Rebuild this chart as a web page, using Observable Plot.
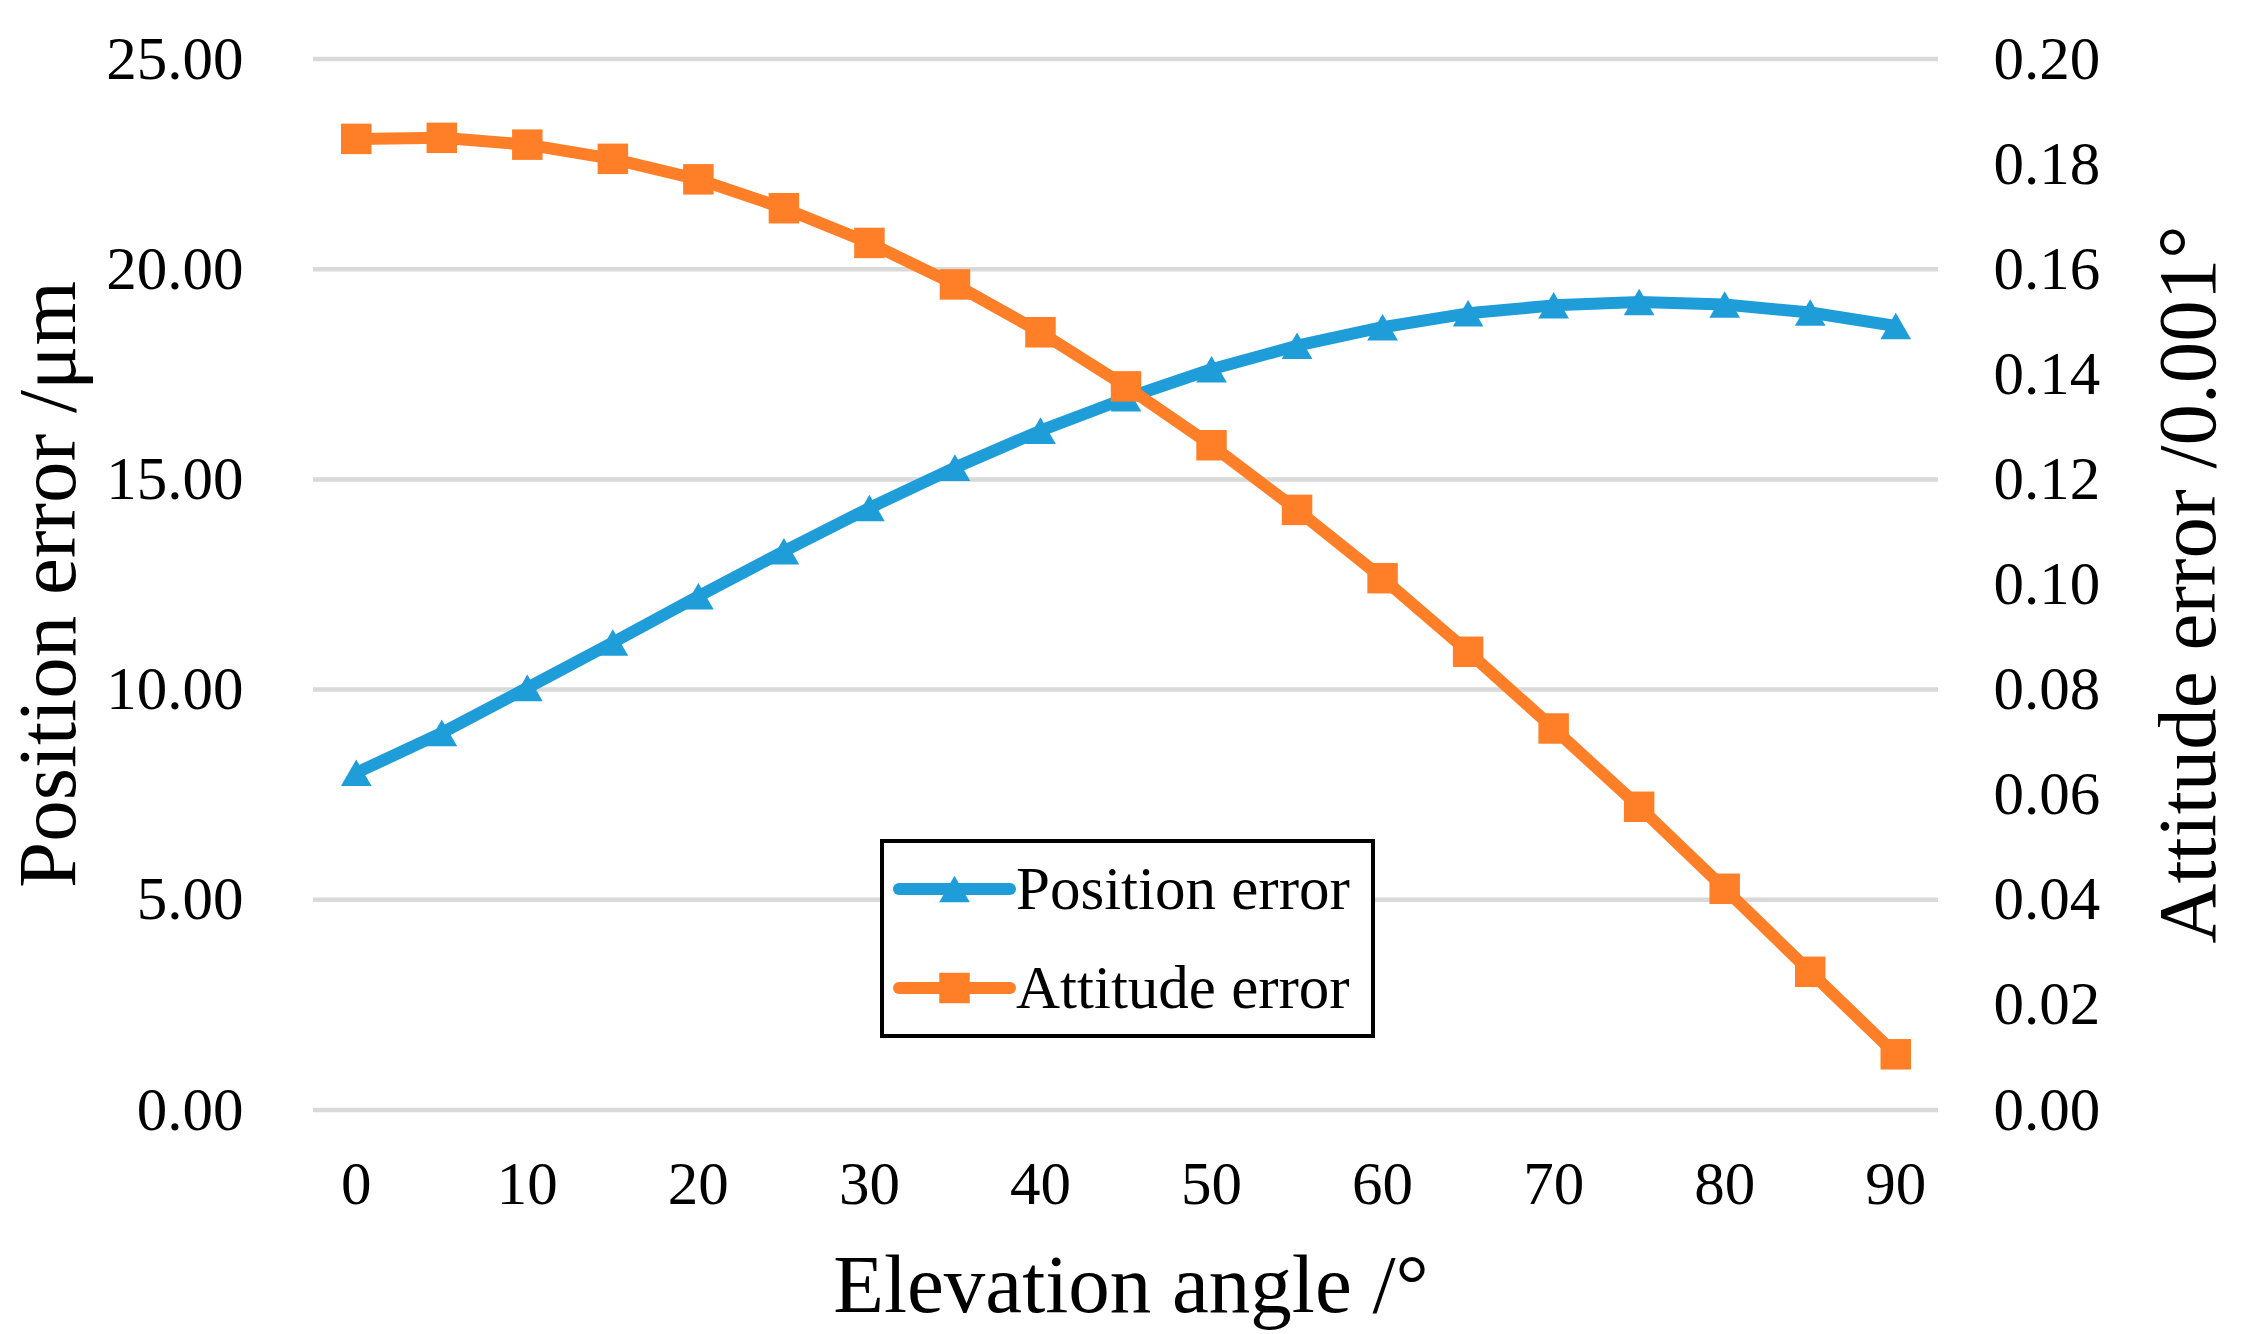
<!DOCTYPE html>
<html><head><meta charset="utf-8">
<script src="https://cdn.jsdelivr.net/npm/d3@7"></script>
<script src="https://cdn.jsdelivr.net/npm/@observablehq/plot@0.6"></script>
<style>
html,body{margin:0;padding:0;background:#fff;}
#wrap{position:relative;width:2241px;height:1334px;}
#legend{position:absolute;left:880px;top:839px;}
</style></head><body><div id="wrap"></div>
<script>
const angles = [0, 5, 10, 15, 20, 25, 30, 35, 40, 45, 50, 55, 60, 65, 70, 75, 80, 85, 90];
const positionError = [8.02, 8.97, 10.04, 11.12, 12.22, 13.29, 14.32, 15.28, 16.16, 16.93, 17.62, 18.18, 18.62, 18.95, 19.14, 19.22, 19.16, 18.97, 18.65];
const attitudeError = [0.1848, 0.1850, 0.1837, 0.1810, 0.1771, 0.1716, 0.1650, 0.1571, 0.1480, 0.1377, 0.1265, 0.1142, 0.1012, 0.0872, 0.0726, 0.0577, 0.0421, 0.0263, 0.0106];
const xTicks = [0, 10, 20, 30, 40, 50, 60, 70, 80, 90];
const leftTicks = [0, 5, 10, 15, 20, 25];
const rightTicks = [0, 0.02, 0.04, 0.06, 0.08, 0.10, 0.12, 0.14, 0.16, 0.18, 0.20];
const seriesNames = ["Position error", "Attitude error"];
const seriesSymbols = ["triangle", "square"];
const colors = ["#1f9dd9", "#fe7f27"];
const xTitle = "Elevation angle /°";
const leftTitle = "Position error /μm";
const rightTitle = "Attitude error /0.001°";

const ratio = 25 / 0.20;
const pos = angles.map((a, i) => ({angle: a, value: positionError[i]}));
const att = angles.map((a, i) => ({angle: a, value: attitudeError[i] * ratio}));
const font = "'Liberation Serif','Times New Roman',serif";
const triR = 11.4, sqR = 17.2, lineW = 12;

const chart = Plot.plot({
  width: 2241, height: 1334,
  marginLeft: 313, marginRight: 303, marginTop: 58.5, marginBottom: 224.5,
  style: {fontFamily: font, background: "white", color: "black"},
  x: {domain: [-2.5, 92.5]},
  y: {domain: [0, 25]},
  marks: [
    Plot.gridY(leftTicks, {stroke: "#d9d9d9", strokeOpacity: 1, strokeWidth: 4.5}),
    Plot.axisX(xTicks, {tickSize: 0, tickPadding: 51, fontSize: 61, tickFormat: d => String(d), label: null}),
    Plot.axisY(leftTicks, {anchor: "left", tickSize: 0, tickPadding: 70, fontSize: 61, tickFormat: d => d.toFixed(2), label: null}),
    Plot.axisY(rightTicks.map(t => t * ratio), {anchor: "right", tickSize: 0, tickPadding: 55, fontSize: 61, tickFormat: d => (d / ratio).toFixed(2), label: null}),
    Plot.lineY(pos, {x: "angle", y: "value", stroke: colors[0], strokeWidth: lineW}),
    Plot.dot(pos, {x: "angle", y: "value", symbol: "triangle", r: triR, fill: colors[0], dy: 4.4}),
    Plot.lineY(att, {x: "angle", y: "value", stroke: colors[1], strokeWidth: lineW}),
    Plot.dot(att, {x: "angle", y: "value", symbol: "square", r: sqR, fill: colors[1]}),
    Plot.text([leftTitle], {text: d => d, frameAnchor: "left", textAnchor: "middle", lineAnchor: "middle", rotate: -90, dx: -265, fontSize: 83, fill: "black"}),
    Plot.text([rightTitle], {text: d => d, frameAnchor: "right", textAnchor: "middle", lineAnchor: "middle", rotate: -90, dx: 250, fontSize: 83, fill: "black"}),
    Plot.text([xTitle], {text: d => d, frameAnchor: "bottom", textAnchor: "middle", lineAnchor: "middle", dx: 5, dy: 175, fontSize: 83, fill: "black"})
  ]
});
document.getElementById("wrap").appendChild(chart);

// Legend
const lw = 495, lh = 199;
const leg = d3.select("#wrap").append("svg").attr("id", "legend")
  .attr("width", lw).attr("height", lh);
leg.append("rect").attr("x", 2).attr("y", 2).attr("width", lw - 4).attr("height", lh - 4)
  .attr("fill", "white").attr("stroke", "black").attr("stroke-width", 4);
const rowY = [50, 149];
seriesNames.forEach((name, i) => {
  const g = leg.append("g");
  g.append("line").attr("x1", 19).attr("x2", 130).attr("y1", rowY[i]).attr("y2", rowY[i])
    .attr("stroke", colors[i]).attr("stroke-width", lineW).attr("stroke-linecap", "round");
  const sym = seriesSymbols[i] === "triangle" ? d3.symbolTriangle : d3.symbolSquare;
  const r = seriesSymbols[i] === "triangle" ? triR : sqR;
  const dy = seriesSymbols[i] === "triangle" ? 4.4 : 0;
  g.append("path").attr("d", d3.symbol(sym, r * r * Math.PI)())
    .attr("transform", `translate(74.5,${rowY[i] + dy})`).attr("fill", colors[i]);
  g.append("text").attr("x", 136).attr("y", rowY[i] + 20).attr("font-size", 61)
    .attr("font-family", font).attr("fill", "black").text(name);
});
</script>
</body></html>
